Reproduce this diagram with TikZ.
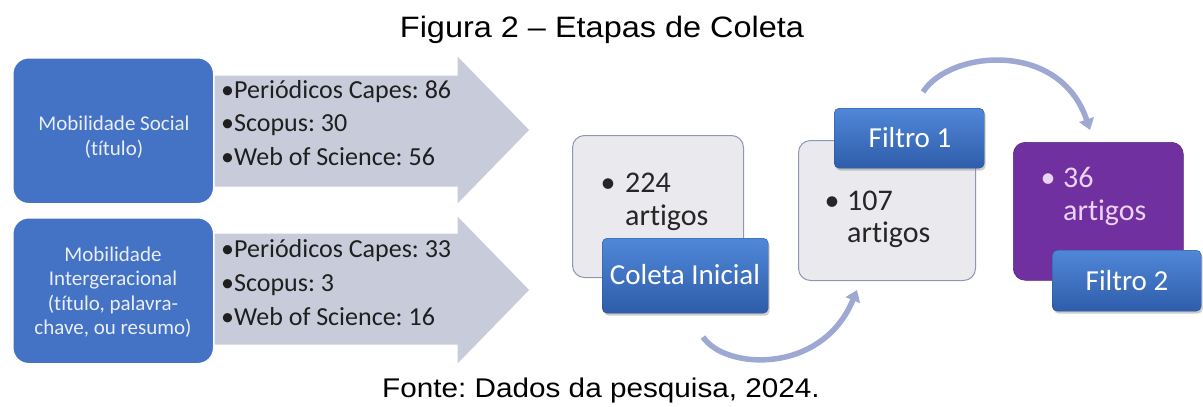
\documentclass[tikz,border=0pt]{standalone}
\usepackage{fontspec}
\setmainfont{Liberation Sans}[FakeStretch=1.1]
\newfontfamily\calfont{Carlito}[Ligatures=NoCommon]
\usetikzlibrary{shadows,arrows.meta}
\definecolor{sblue}{HTML}{4472C4}
\definecolor{arrowgray}{HTML}{C8CCDA}
\definecolor{boxgray}{HTML}{E9E9EE}
\definecolor{boxedge}{HTML}{8E98B4}
\definecolor{lbltop}{HTML}{5087D8}
\definecolor{lblbot}{HTML}{2E5DAA}
\definecolor{purp}{HTML}{7030A0}
\definecolor{purptext}{HTML}{EBD3F5}
\definecolor{cyc}{HTML}{9DA9D3}
\begin{document}
\frenchspacing
\begin{tikzpicture}[x=1pt,y=-1pt,
  srcbox/.style={draw=white, line width=1.5pt, fill=sblue, rounded corners=16pt, inner sep=0pt, anchor=north west},
  srctext/.style={text=white!88!sblue, font=\calfont\fontsize{21}{24.5}\selectfont, align=center, inner sep=0pt},
  blockarrow/.style={fill=arrowgray, draw=white, line width=1pt},
  listitem/.style={font=\calfont\fontsize{26}{30}\selectfont, anchor=base west, inner sep=0pt, text=black!88},
  graybox/.style={draw=boxedge, line width=1pt, fill=boxgray, rounded corners=12pt, inner sep=0pt, anchor=north west},
  purpbox/.style={draw=purp!80!black, line width=0.6pt, fill=purp, rounded corners=12pt, inner sep=0pt, anchor=north west},
  numtext/.style={font=\calfont\fontsize{30}{34}\selectfont, anchor=base west, inner sep=0pt, text=black!85},
  bul/.style={font=\calfont\fontsize{30}{34}\selectfont, anchor=base, inner sep=0pt, text=black!85},
  lbl/.style={rounded corners=5pt, top color=lbltop, bottom color=lblbot, draw=lblbot!85!black, line width=0.4pt, inner sep=0pt, anchor=north west, drop shadow={opacity=0.4, shadow xshift=1.5pt, shadow yshift=-2.5pt}},
  lbltext/.style={text=white, font=\calfont\fontsize{29}{33}\selectfont, inner sep=0pt},
  cyclearrow/.style={line width=5.5pt, draw=cyc, -{Triangle[length=11pt,width=15pt]}},
  caption/.style={font=\fontsize{29.5}{33}\selectfont, inner sep=0pt}
]
\useasboundingbox (0,0) rectangle (1203,407);
\fill[white] (0,0) rectangle (1203,407);

% title
\node[caption] (title) at (602,30) {Figura 2 -- Etapas de Coleta};

% block arrows
\draw[blockarrow] (205,75) -- (457,75) -- (457,55) -- (530,130) -- (457,205) -- (457,187) -- (205,187) -- cycle;
\draw[blockarrow] (205,233) -- (457,233) -- (457,215) -- (530,290) -- (457,365) -- (457,345) -- (205,345) -- cycle;

% source boxes
\node[srcbox, minimum width=201pt, minimum height=146pt] (ms) at (12,57) {};
\node[srctext] (mst) at (114,137) {Mobilidade Social\\(título)};
\node[srcbox, minimum width=201pt, minimum height=146pt] (mi) at (12,217) {};
\node[srctext] (mit) at (113,292) {Mobilidade\\Intergeracional\\(título, palavra-\\chave, ou resumo)};

% lists
\node[listitem] (a1) at (221,98) {\textbullet Periódicos Capes: 86};
\node[listitem] (a2) at (221,131.5) {\textbullet Scopus: 30};
\node[listitem] (a3) at (221,165) {\textbullet Web of Science: 56};
\node[listitem] (b1) at (221,257) {\textbullet Periódicos Capes: 33};
\node[listitem] (b2) at (221,291) {\textbullet Scopus: 3};
\node[listitem] (b3) at (221,325) {\textbullet Web of Science: 16};

% collection stage 1
\node[graybox, minimum width=171pt, minimum height=142pt] (g1) at (572,135) {};
\node[bul] (g1b) at (608,192) {\textbullet};
\node[numtext] (g1n) at (625,192) {224};
\node[numtext] (g1a) at (625,225) {artigos};
\node[lbl, minimum width=166pt, minimum height=75pt] (l1) at (602,238) {};
\node[lbltext] (l1t) at (685,275) {Coleta Inicial};

% stage 2
\node[graybox, minimum width=177pt, minimum height=140pt] (g2) at (798,140) {};
\node[bul] (g2b) at (832,210) {\textbullet};
\node[numtext] (g2n) at (847,210) {107};
\node[numtext] (g2a) at (847,242) {artigos};
\node[lbl, minimum width=150pt, minimum height=60pt] (l2) at (834,108) {};
\node[lbltext] (l2t) at (910,138) {Filtro 1};

% stage 3
\node[purpbox, minimum width=170pt, minimum height=138pt] (g3) at (1013,142) {};
\node[bul, text=purptext] (g3b) at (1048,187) {\textbullet};
\node[numtext, text=purptext] (g3n) at (1063,187) {36};
\node[numtext, text=purptext] (g3a) at (1063,220) {artigos};
\node[lbl, minimum width=149pt, minimum height=61pt] (l3) at (1052,250) {};
\node[lbltext] (l3t) at (1127,281) {Filtro 2};

% cycle arrows
\coordinate (c1s) at (703,337);
\coordinate (c1e) at (857,290);
\coordinate (c2s) at (923,92);
\coordinate (c2e) at (1090,130);
\draw[cyclearrow] (c1s) .. controls (725,370) and (822,375) .. (c1e);
\draw[cyclearrow] (c2s) .. controls (950,50) and (1060,40) .. (c2e);

% footer
\node[caption, font=\fontsize{27}{30}\selectfont] (src) at (601,391) {Fonte: Dados da pesquisa, 2024.};
\end{tikzpicture}
\end{document}
